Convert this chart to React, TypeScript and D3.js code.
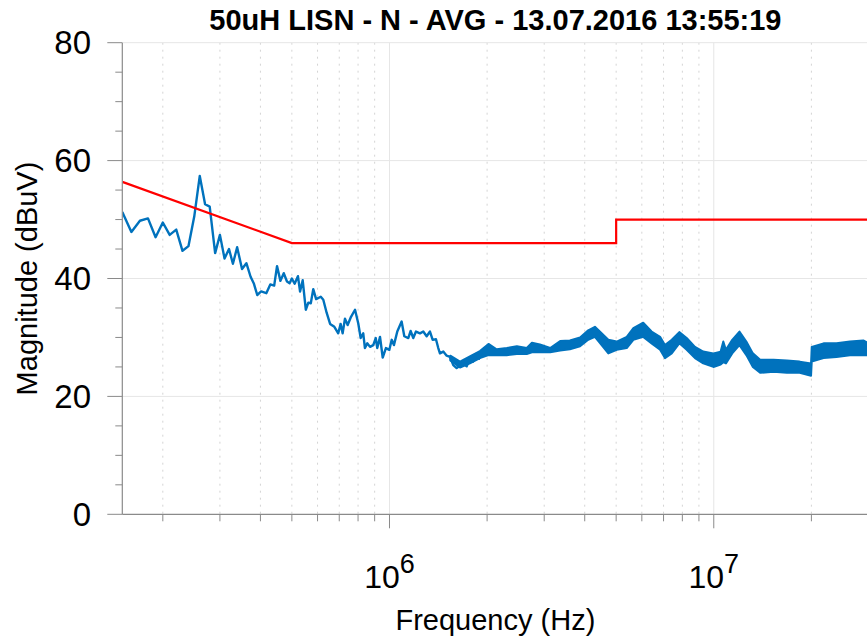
import React, { useEffect, useRef } from 'react';
import * as d3 from 'd3';

// sparse part of the measured trace (MHz / dBuV)
const traceMHz = [
  0.150, 0.160, 0.170, 0.180, 0.190, 0.200, 0.210, 0.220, 0.230, 0.240,
  0.250, 0.260, 0.270, 0.279, 0.290, 0.300, 0.310, 0.320, 0.329, 0.339,
  0.351, 0.362, 0.373, 0.382, 0.391, 0.402, 0.417, 0.429, 0.441, 0.450,
  0.461, 0.472, 0.483, 0.492, 0.500, 0.510, 0.522, 0.530, 0.540, 0.552,
  0.562, 0.572, 0.582, 0.594, 0.614, 0.625, 0.640, 0.656, 0.676, 0.695,
  0.707, 0.717, 0.729, 0.743, 0.761, 0.783, 0.801, 0.815, 0.830, 0.840,
  0.854, 0.871, 0.891, 0.907, 0.917, 0.935, 0.953, 0.975, 0.999, 1.016,
  1.032, 1.057, 1.090, 1.111, 1.143, 1.162, 1.184, 1.207, 1.242, 1.271,
  1.302, 1.333, 1.359, 1.391, 1.414, 1.431, 1.465, 1.501, 1.536, 1.573,
  1.611, 1.650, 1.689, 1.730, 1.772, 1.810, 1.850, 1.890, 1.930,
];
const traceDb = [
  51.3, 47.9, 49.8, 50.2, 47.0, 49.5, 47.4, 48.3, 44.7, 45.5,
  50.5, 57.4, 52.6, 52.2, 44.3, 47.4, 43.4, 45.0, 42.5, 45.3,
  41.6, 42.6, 40.3, 39.1, 37.2, 37.8, 37.5, 39.0, 38.8, 42.1,
  39.6, 40.9, 39.5, 39.2, 40.0, 39.1, 40.4, 37.8, 39.7, 34.7,
  35.9, 35.8, 38.2, 36.5, 36.9, 36.4, 34.2, 32.3, 31.8, 30.7,
  32.3, 30.7, 33.2, 32.1, 33.5, 34.7, 32.4, 29.9, 30.7, 28.2,
  29.0, 28.4, 28.7, 29.9, 28.2, 30.1, 26.6, 28.2, 27.9, 29.6,
  28.7, 31.0, 32.7, 30.2, 29.9, 31.1, 29.9, 31.0, 30.7, 31.0,
  30.2, 31.0, 29.6, 29.7, 28.2, 27.3, 27.6, 26.9, 26.7, 25.3,
  24.8, 25.2, 25.6, 25.1, 26.5, 25.9, 27.2, 26.4, 27.8,
];

// dense part of the trace: upper / lower edge of the noise band
const bandMHz = [
  1.54, 1.65, 1.77, 1.90, 2.02, 2.14, 2.30, 2.47, 2.65,
  2.75, 2.91, 3.13, 3.36, 3.60, 3.87, 4.10, 4.30, 4.51, 4.73,
  5.02, 5.39, 5.65, 6.06, 6.43, 6.83, 7.07, 7.42, 7.83, 8.25,
  8.75, 9.28, 9.97, 10.5, 10.7, 10.9, 11.4, 12.0, 12.6, 13.2, 13.9, 15.3,
  16.8, 18.4, 19.95, 20.05, 21.8, 23.9, 26.3, 28.9, 30,
];
const bandMax = [
  26.9, 25.9, 26.8, 27.7, 28.9, 28.0, 28.2, 28.5, 28.2,
  29.1, 28.8, 28.2, 29.4, 29.5, 30.0, 31.2, 31.8, 30.7, 29.6,
  29.3, 30.1, 31.6, 32.5, 31.0, 30.1, 28.7, 29.6, 30.9, 29.9,
  28.4, 27.6, 27.3, 27.6, 29.3, 27.9, 29.6, 31.0, 29.3, 27.3, 26.2, 26.2,
  26.1, 25.9, 25.6, 28.4, 29.0, 29.0, 29.3, 29.5, 29.0,
];
const bandMin = [
  26.1, 24.9, 25.6, 26.5, 27.0, 27.0, 27.0, 27.2, 27.2,
  27.5, 27.5, 27.5, 27.8, 28.0, 28.5, 29.6, 30.1, 28.7, 27.3,
  27.9, 28.2, 29.6, 30.1, 29.0, 27.9, 26.5, 27.3, 29.0, 27.9,
  26.5, 25.6, 25.0, 25.4, 25.8, 25.6, 27.3, 28.7, 27.0, 25.0, 24.0, 24.2,
  24.0, 24.0, 23.5, 25.9, 26.5, 26.7, 27.0, 27.0, 27.0,
];

// AVG limit line
const limitMHz = [0.15, 0.5, 5, 5, 30];
const limitDb = [56.4, 46, 46, 50, 50];

const yTicks = [0, 20, 40, 60, 80];
const title = '50uH LISN - N - AVG - 13.07.2016 13:55:19';
const xLabel = 'Frequency (Hz)';
const yLabel = 'Magnitude (dBuV)';

const FONT = '"Liberation Sans", Arial, Helvetica, sans-serif';
const BLUE = '#0072bd';

const App: React.FC = () => {
  const svgRef = useRef<SVGSVGElement | null>(null);

  useEffect(() => {
    if (!svgRef.current) return;
    const svg = d3.select(svgRef.current);
    svg.selectAll('*').remove();

    const left = 122.3, right = 868.5, top = 42.7, bottom = 514.3;

    const x = d3.scaleLog().domain([150e3, 30e6]).range([left, right]);
    const y = d3.scaleLinear().domain([0, 80]).range([bottom, top]);

    svg.append('defs').append('clipPath').attr('id', 'plot-clip')
      .append('rect')
      .attr('x', left).attr('y', top)
      .attr('width', right - left).attr('height', bottom - top);

    const xTicks = x.ticks();
    const isMajor = (f: number) => Math.abs(Math.log10(f) - Math.round(Math.log10(f))) < 1e-6;

    // grid
    const grid = svg.append('g');
    grid.selectAll('line.minor')
      .data(xTicks.filter(f => !isMajor(f)))
      .enter().append('line')
      .attr('x1', d => x(d)).attr('x2', d => x(d))
      .attr('y1', top).attr('y2', bottom)
      .attr('stroke', '#d4d4d4').attr('stroke-width', 1)
      .attr('stroke-dasharray', '2 5');
    grid.selectAll('line.vmajor')
      .data(xTicks.filter(isMajor))
      .enter().append('line')
      .attr('x1', d => x(d)).attr('x2', d => x(d))
      .attr('y1', top).attr('y2', bottom)
      .attr('stroke', '#e6e6e6').attr('stroke-width', 1);
    grid.selectAll('line.hmajor')
      .data(yTicks.filter(v => v > 0))
      .enter().append('line')
      .attr('x1', left).attr('x2', right)
      .attr('y1', d => y(d)).attr('y2', d => y(d))
      .attr('stroke', '#e6e6e6').attr('stroke-width', 1);

    // data
    const plot = svg.append('g').attr('clip-path', 'url(#plot-clip)');

    const band = bandMHz.map((f, i) => ({ f: f * 1e6, hi: bandMax[i], lo: bandMin[i] }));
    plot.append('path')
      .datum(band)
      .attr('d', d3.area<{ f: number; hi: number; lo: number }>()
        .x(d => x(d.f)).y0(d => y(d.lo)).y1(d => y(d.hi)))
      .attr('fill', BLUE)
      .attr('stroke', BLUE)
      .attr('stroke-width', 2)
      .attr('stroke-linejoin', 'round');

    const trace = traceMHz.map((f, i) => ({ f: f * 1e6, v: traceDb[i] }));
    plot.append('path')
      .datum(trace)
      .attr('d', d3.line<{ f: number; v: number }>().x(d => x(d.f)).y(d => y(d.v)))
      .attr('fill', 'none')
      .attr('stroke', BLUE)
      .attr('stroke-width', 2.4)
      .attr('stroke-linejoin', 'round');

    const limit = limitMHz.map((f, i) => ({ f: f * 1e6, v: limitDb[i] }));
    plot.append('path')
      .datum(limit)
      .attr('d', d3.line<{ f: number; v: number }>().x(d => x(d.f)).y(d => y(d.v)))
      .attr('fill', 'none')
      .attr('stroke', '#ff0000')
      .attr('stroke-width', 2.2);

    // axes
    const axisColor = '#8a8a8a';
    const ax = svg.append('g');
    ax.append('line')
      .attr('x1', left).attr('x2', left).attr('y1', top).attr('y2', bottom)
      .attr('stroke', axisColor).attr('stroke-width', 1.2);
    ax.append('line')
      .attr('x1', left).attr('x2', right).attr('y1', bottom).attr('y2', bottom)
      .attr('stroke', axisColor).attr('stroke-width', 1.2);

    const yMinor = d3.range(0, 81, 5);
    ax.selectAll('line.yt')
      .data(yMinor)
      .enter().append('line')
      .attr('x1', d => left - (d % 20 === 0 ? 15 : 7)).attr('x2', left)
      .attr('y1', d => y(d)).attr('y2', d => y(d))
      .attr('stroke', axisColor).attr('stroke-width', 1);
    ax.selectAll('text.yl')
      .data(yTicks)
      .enter().append('text')
      .attr('x', 91).attr('y', d => y(d))
      .attr('dy', '0.35em')
      .attr('text-anchor', 'end')
      .attr('font-family', FONT).attr('font-size', 33)
      .attr('fill', '#000')
      .text(d => String(d));

    ax.selectAll('line.xt')
      .data(xTicks)
      .enter().append('line')
      .attr('x1', d => x(d)).attr('x2', d => x(d))
      .attr('y1', bottom).attr('y2', d => bottom + (isMajor(d) ? 14 : 7))
      .attr('stroke', axisColor).attr('stroke-width', 1);
    const xl = ax.selectAll('text.xl')
      .data(xTicks.filter(isMajor))
      .enter().append('text')
      .attr('x', d => x(d)).attr('y', 588)
      .attr('text-anchor', 'middle')
      .attr('font-family', FONT).attr('font-size', 32)
      .attr('fill', '#000');
    xl.append('tspan').text('10');
    xl.append('tspan').attr('dy', -15).attr('font-size', 27)
      .text(d => String(Math.round(Math.log10(d))));

    // labels
    svg.append('text')
      .attr('x', (left + right) / 2).attr('y', 30)
      .attr('text-anchor', 'middle')
      .attr('font-family', FONT).attr('font-size', 29).attr('font-weight', 'bold')
      .attr('fill', '#000')
      .text(title);
    svg.append('text')
      .attr('x', (left + right) / 2).attr('y', 630)
      .attr('text-anchor', 'middle')
      .attr('font-family', FONT).attr('font-size', 29)
      .attr('fill', '#000')
      .text(xLabel);
    svg.append('text')
      .attr('transform', `translate(37,${(top + bottom) / 2}) rotate(-90)`)
      .attr('text-anchor', 'middle')
      .attr('font-family', FONT).attr('font-size', 29)
      .attr('fill', '#000')
      .text(yLabel);
  }, []);

  return (
    <svg
      ref={svgRef}
      width={867}
      height={641}
      style={{ position: 'absolute', left: 0, top: 0, background: '#fff' }}
    />
  );
};

export default App;
